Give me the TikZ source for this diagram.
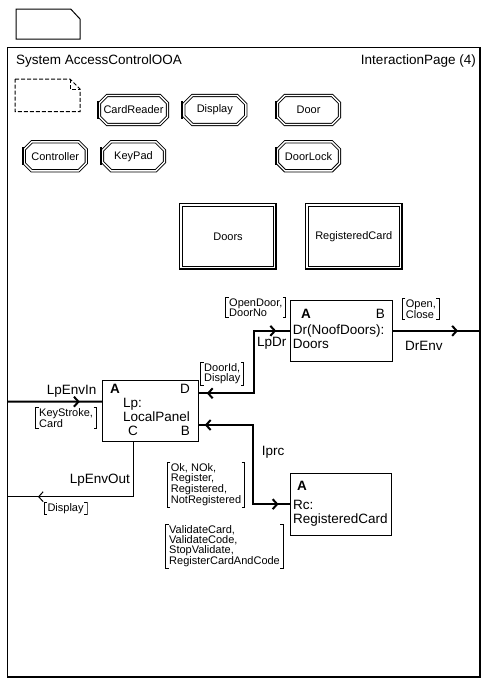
\documentclass[tikz,border=0pt]{standalone}
\usepackage{fontspec}
\setmainfont{Liberation Sans}
\usetikzlibrary{shapes.misc,arrows.meta,positioning,decorations.markings}
\tikzset{
  chev/.tip={Straight Barb[length=4.5pt,width=10pt]},
  typeref/.style={
    chamfered rectangle, chamfered rectangle xsep=6pt, draw=black, double,
    double distance=1.4pt, line width=0.9pt, outer sep=1.15pt,
    minimum width=62pt, minimum height=29pt, inner sep=0pt,
    font=\fontsize{11}{11}\selectfont,
    append after command={([xshift=-0.45pt,yshift=9pt]\tikzlastnode.west)
      edge[line width=1.8pt] ([xshift=-0.45pt,yshift=-9pt]\tikzlastnode.west)}
  },
  blockref/.style={
    draw=black, double, double distance=1.8pt, line width=1pt, outer sep=1.4pt,
    minimum width=94pt, minimum height=62.5pt, inner sep=0pt,
    font=\fontsize{11}{11}\selectfont
  },
  blocknode/.style={draw=black, line width=1pt, inner sep=0pt, minimum height=61.7pt},
  blocktext/.style={font=\fontsize{13.5}{14}\selectfont, inner sep=0pt, align=left, anchor=north west},
  gate/.style={font=\fontsize{13.5}{14}\selectfont, inner sep=0pt},
  gatebold/.style={gate, font=\fontsize{13.5}{14}\selectfont\bfseries},
  routelabel/.style={font=\fontsize{13.5}{14}\selectfont, inner sep=0pt},
  sigs/.style={
    font=\fontsize{11}{10}\selectfont, align=left, anchor=north west,
    inner xsep=4pt, inner ysep=1.5pt,
    path picture={
      \draw[line width=0.9pt] ([xshift=3.5pt,yshift=-0.5pt]path picture bounding box.north west)
        -| ([xshift=0.5pt,yshift=0.5pt]path picture bounding box.south west) -- ++(3pt,0);
      \draw[line width=0.9pt] ([xshift=-3.5pt,yshift=-0.5pt]path picture bounding box.north east)
        -| ([xshift=-0.5pt,yshift=0.5pt]path picture bounding box.south east) -- ++(-3pt,0);
    }
  },
  route/.style={line width=2pt},
  fwd/.style={postaction={decorate, decoration={markings, mark=at position #1 with {\arrow{chev}}}}},
  bwd/.style={postaction={decorate, decoration={markings, mark=at position #1 with {\arrowreversed{chev}}}}},
}

\begin{document}
\begin{tikzpicture}[x=1pt, y=-1pt, node distance=15pt and 14pt]
  \useasboundingbox (0,0) rectangle (488,686);
  \draw[line width=1pt] (16,9) -- (70.7,9) -- (80,19) -- (80,39) -- (16,39) -- cycle;
  \draw[line width=1pt] (7,47) rectangle (480,677);
  \draw[line width=2pt] (480,47) -- (480,677) -- (7,677);
  \node[routelabel, anchor=base west] (sysname) at (16,64) {System AccessControlOOA};
  \node[routelabel, anchor=base east] (pagename) at (476,64) {InteractionPage (4)};
  \draw[line width=1pt, dash pattern=on 4pt off 2pt] (15,79) -- (70,79) -- (80,89) -- (80,111.7) -- (15,111.7) -- cycle;
  \draw[line width=1pt, dash pattern=on 4pt off 2pt] (70,79) -- (70,89) -- (80,89);

  \node[typeref] (cardreader) at (133.5,110) {CardReader};
  \node[typeref, right=of cardreader] (display) {Display};
  \node[typeref] (door) at (308.5,110) {Door};
  \node[typeref, below=of cardreader] (keypad) {KeyPad};
  \node[typeref, left=of keypad] (controller) {Controller};
  \node[typeref, below=of door] (doorlock) {DoorLock};

  \node[blockref] (doors) at (228,236.5) {Doors};
  \node[blockref, right=29pt of doors] (regcard) {RegisteredCard};
  \foreach \b in {doors,regcard}
    \draw[line width=2pt] (\b.north east) -- (\b.south east) -- (\b.south west);

  \node[blocknode, minimum width=102pt] (dr) at (341.7,330.85) {};
  \node[gatebold, anchor=base west] (drA) at (301,318) {A};
  \node[gate, anchor=base east] (drB) at (385,318) {B};
  \node[blocktext] (drname) at (292.7,325) {Dr(NoofDoors):\\Doors};

  \node[blocknode, minimum width=96pt] (lp) at (150.3,410.85) {};
  \node[gatebold, anchor=base west] (lpA) at (110,393) {A};
  \node[gate, anchor=base east] (lpD) at (190,393) {D};
  \node[blocktext] (lpname) at (123,398.5) {Lp:\\LocalPanel};
  \node[gate, anchor=base west] (lpC) at (128,435) {C};
  \node[gate, anchor=base east] (lpB) at (190,435) {B};

  \node[blocknode, minimum width=101.7pt] (rc) at (340.85,504.15) {};
  \node[gatebold, anchor=base west] (rcA) at (297,490) {A};
  \node[blocktext] (rcname) at (293,500.5) {Rc:\\RegisteredCard};

  \coordinate (envin) at (7,401.7);
  \coordinate (envout) at (7,496.7);
  \coordinate (envdr) at (480,330.85);
  \draw[route, fwd=-22pt] (envin) -- ([yshift=9.15pt]lp.west);
  \draw[line width=1pt, fwd=-31pt] ([xshift=-17pt]lp.south) |- (envout);
  \draw[route, bwd=8pt, fwd=-14pt] ([yshift=17.55pt]lp.east) -- ++(55pt,0) |- (dr.west);
  \draw[route, fwd=-22pt] (dr.east) -- (envdr);
  \draw[route, bwd=6pt, fwd=-11pt] ([yshift=-14.15pt]lp.east) -- ++(54.4pt,0) |- (rc.west);

  \node[routelabel, anchor=base east] (lpenvinlbl) at (96.7,394) {LpEnvIn};
  \node[routelabel, anchor=base east] (lpenvoutlbl) at (130,483) {LpEnvOut};
  \node[routelabel, anchor=base west] (lpdrlbl) at (257,346) {LpDr};
  \node[routelabel, anchor=base west] (drenvlbl) at (405,350) {DrEnv};
  \node[routelabel, anchor=base west] (iprclbl) at (261.7,455) {Iprc};

  \node[sigs] (opendoor) at (225,297) {OpenDoor,\\DoorNo};
  \node[sigs] (doorid) at (200,362) {DoorId,\\Display};
  \node[sigs] (openclose) at (401.7,298) {Open,\\Close};
  \node[sigs] (keystroke) at (35,406.7) {KeyStroke,\\Card};
  \node[sigs] (outdisplay) at (43.3,501.7) {Display};
  \node[sigs] (oknok) at (166.7,461.7) {Ok, NOk,\\Register,\\Registered,\\NotRegistered};
  \node[sigs] (validate) at (165,524) {ValidateCard,\\ValidateCode,\\StopValidate,\\RegisterCardAndCode};
\end{tikzpicture}
\end{document}
